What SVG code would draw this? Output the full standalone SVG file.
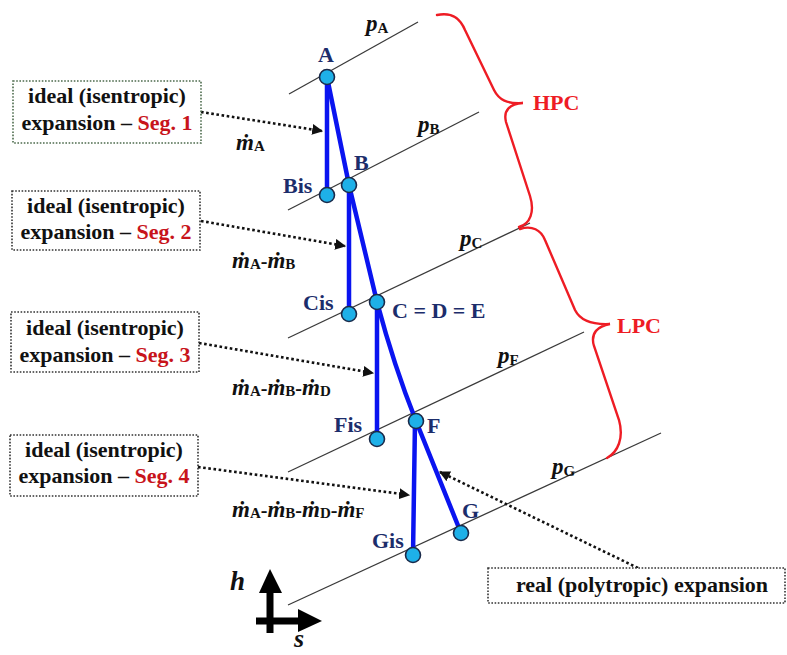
<svg xmlns="http://www.w3.org/2000/svg" width="787" height="655" viewBox="0 0 787 655">
<defs>
<style>
.iso{stroke:#3a3a3a;stroke-width:1.3;fill:none}
.blue{stroke:#0a14f0;stroke-width:4.5;fill:none;stroke-linecap:round}
.pt{fill:#1eb0e8;stroke:#1a2a4a;stroke-width:1.6}
.lbl{font-family:"Liberation Serif","Times New Roman",serif;font-weight:bold;font-size:22px;fill:#1c2d6b}
.box{fill:#fff;stroke:#333;stroke-width:1.6;stroke-dasharray:1.6 1.6}
.btxt{font-family:"Liberation Serif","Times New Roman",serif;font-weight:bold;font-size:22px;fill:#111;text-anchor:middle}
.red{fill:#c8141b}
.dot{stroke:#111;stroke-width:2.6;stroke-dasharray:2.6 2.6;fill:none}
.brace{stroke:#ee1c24;stroke-width:2.4;fill:none;stroke-linecap:round}
.rtxt{font-family:"Liberation Serif","Times New Roman",serif;font-weight:bold;font-size:22px;fill:#ee1c24}
.math{font-family:"Liberation Serif","Times New Roman",serif;font-weight:bold;fill:#111}
.it{font-style:italic;font-size:23px}
.sub{font-size:15px;font-style:normal}
.ax{stroke:#000;stroke-width:7;fill:none}
</style>
<marker id="ah" viewBox="0 0 10 10" refX="9" refY="5" markerWidth="4.2" markerHeight="4.2" orient="auto" markerUnits="strokeWidth">
<path d="M0,0 L10,5 L0,10 z" fill="#111"/>
</marker>
</defs>

<g id="isobars">
<line class="iso" x1="289" y1="94" x2="418" y2="22"/>
<line class="iso" x1="288" y1="210" x2="479" y2="112"/>
<line class="iso" x1="288" y1="338" x2="530" y2="223"/>
<line class="iso" x1="288" y1="472" x2="584" y2="332"/>
<line class="iso" x1="288" y1="605" x2="661" y2="433"/>
</g>

<g id="pressure-labels" class="math">
<text x="366" y="31"><tspan class="it" font-size="22">p</tspan><tspan class="sub" dy="2">A</tspan></text>
<text x="418" y="132"><tspan class="it" font-size="22">p</tspan><tspan class="sub" dy="2">B</tspan></text>
<text x="460" y="246"><tspan class="it" font-size="22">p</tspan><tspan class="sub" dy="2">C</tspan></text>
<text x="498" y="363"><tspan class="it" font-size="22">p</tspan><tspan class="sub" dy="2">F</tspan></text>
<text x="552" y="474"><tspan class="it" font-size="22">p</tspan><tspan class="sub" dy="2">G</tspan></text>
</g>

<g id="braces">
<path class="brace" d="M437,15 C452,12 460,18 465,30 L494,90 C499,100 507,104 523,103 C510,104 503,110 506,122 L530,196 C535,212 530,224 519,227"/>
<text class="rtxt" x="533" y="110">HPC</text>
<path class="brace" d="M520,229 C532,225 541,230 545,240 L575,310 C580,320 590,325 610,324 C598,326 590,333 594,346 L619,420 C624,438 618,452 607,458"/>
<text class="rtxt" x="617" y="333">LPC</text>
</g>

<g id="connectors">
<line class="blue" x1="327" y1="77" x2="327" y2="195"/>
<line class="blue" x1="327" y1="77" x2="349" y2="185"/>
<line class="blue" x1="349" y1="185" x2="349" y2="314"/>
<line class="blue" x1="349" y1="185" x2="377" y2="302"/>
<line class="blue" x1="377" y1="302" x2="377" y2="439"/>
<path class="blue" d="M377,302 Q394,366 416,421"/>
<line class="blue" x1="415" y1="421" x2="413" y2="555"/>
<line class="blue" x1="416" y1="421" x2="461" y2="533"/>
<line class="dot" x1="201" y1="112" x2="322" y2="131" marker-end="url(#ah)"/>
<line class="dot" x1="201" y1="221" x2="345" y2="246" marker-end="url(#ah)"/>
<line class="dot" x1="199" y1="343" x2="373" y2="373" marker-end="url(#ah)"/>
<line class="dot" x1="198" y1="467" x2="409" y2="495" marker-end="url(#ah)"/>
<line class="dot" x1="638" y1="568" x2="440" y2="472" marker-end="url(#ah)"/>
</g>

<g id="points">
<circle class="pt" cx="327" cy="77" r="7.5"/>
<circle class="pt" cx="327" cy="195" r="7.5"/>
<circle class="pt" cx="349" cy="185" r="7.5"/>
<circle class="pt" cx="349" cy="314" r="7.5"/>
<circle class="pt" cx="377" cy="302" r="7.5"/>
<circle class="pt" cx="377" cy="439" r="7.5"/>
<circle class="pt" cx="416" cy="421" r="7.5"/>
<circle class="pt" cx="413" cy="555" r="7.5"/>
<circle class="pt" cx="461" cy="533" r="7.5"/>
</g>

<g id="point-labels" class="lbl">
<text x="318" y="62">A</text>
<text x="354" y="170">B</text>
<text x="283" y="193">Bis</text>
<text x="303" y="310">Cis</text>
<text x="392" y="318">C = D = E</text>
<text x="334" y="432">Fis</text>
<text x="427" y="433">F</text>
<text x="372" y="548">Gis</text>
<text x="462" y="518">G</text>
</g>

<g id="mass-labels" class="math">
<text x="236" y="150"><tspan class="it">ṁ</tspan><tspan class="sub" dy="1">A</tspan></text>
<text x="232" y="268"><tspan class="it">ṁ</tspan><tspan class="sub" dy="1">A</tspan><tspan dy="-1" font-size="20">-</tspan><tspan class="it">ṁ</tspan><tspan class="sub" dy="1">B</tspan></text>
<text x="232" y="395"><tspan class="it">ṁ</tspan><tspan class="sub" dy="1">A</tspan><tspan dy="-1" font-size="20">-</tspan><tspan class="it">ṁ</tspan><tspan class="sub" dy="1">B</tspan><tspan dy="-1" font-size="20">-</tspan><tspan class="it">ṁ</tspan><tspan class="sub" dy="1">D</tspan></text>
<text x="232" y="517"><tspan class="it">ṁ</tspan><tspan class="sub" dy="1">A</tspan><tspan dy="-1" font-size="20">-</tspan><tspan class="it">ṁ</tspan><tspan class="sub" dy="1">B</tspan><tspan dy="-1" font-size="20">-</tspan><tspan class="it">ṁ</tspan><tspan class="sub" dy="1">D</tspan><tspan dy="-1" font-size="20">-</tspan><tspan class="it">ṁ</tspan><tspan class="sub" dy="1">F</tspan></text>
</g>

<g id="box1">
<rect class="box" x="13" y="81" width="188" height="62" style="stroke:#4d6b4d"/>
<text class="btxt" x="107" y="103">ideal (isentropic)</text>
<text class="btxt" x="107" y="130">expansion – <tspan class="red">Seg. 1</tspan></text>
</g>
<g id="box2">
<rect class="box" x="12" y="191" width="188" height="59"/>
<text class="btxt" x="106" y="213">ideal (isentropic)</text>
<text class="btxt" x="106" y="239">expansion – <tspan class="red">Seg. 2</tspan></text>
</g>
<g id="box3">
<rect class="box" x="11" y="312" width="188" height="60"/>
<text class="btxt" x="105" y="335">ideal (isentropic)</text>
<text class="btxt" x="105" y="362">expansion – <tspan class="red">Seg. 3</tspan></text>
</g>
<g id="box4">
<rect class="box" x="10" y="435" width="188" height="61"/>
<text class="btxt" x="104" y="457">ideal (isentropic)</text>
<text class="btxt" x="104" y="483">expansion – <tspan class="red">Seg. 4</tspan></text>
</g>
<g id="box5">
<rect class="box" x="488" y="568" width="297" height="35"/>
<text class="btxt" x="642" y="592">real (polytropic) expansion</text>
</g>

<g id="axes">
<line class="ax" x1="270" y1="633" x2="270" y2="590"/>
<path d="M259,593 L270,569 L282,593 z" fill="#000"/>
<line class="ax" x1="256" y1="621" x2="300" y2="621"/>
<path d="M298,609 L322,621 L298,632 z" fill="#000"/>
<text class="math" x="230" y="590" font-size="27" font-style="italic">h</text>
<text class="math" x="294" y="647" font-size="26" font-style="italic">s</text>
</g>
</svg>
